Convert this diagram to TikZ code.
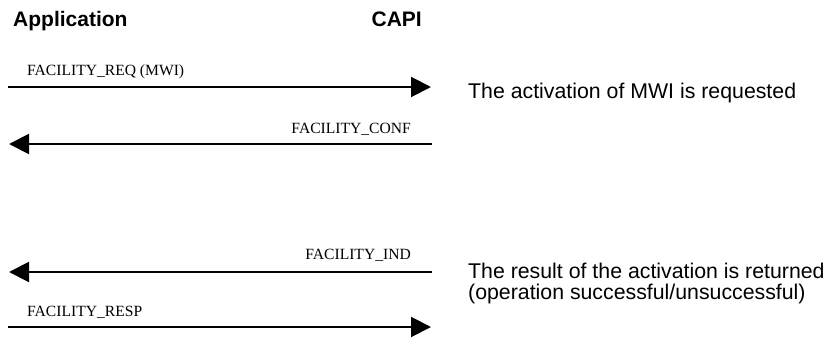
\documentclass[tikz,border=0pt]{standalone}
\usepackage{fontspec}
\setmainfont{Liberation Serif}
\setsansfont{Liberation Sans}
\usetikzlibrary{positioning,arrows.meta}

\tikzset{
	head/.style={inner sep=0pt, font=\fontsize{21}{24}\selectfont\sffamily\bfseries},
	lbl/.style={inner sep=0pt, font=\fontsize{15.6}{18}\selectfont\rmfamily},
	note/.style={inner sep=0pt, align=left, font=\fontsize{21.3}{21}\selectfont\sffamily},
	msg/.style={line width=2pt, -{Triangle[length=20pt,width=20pt]}}
}

\begin{document}
\begin{tikzpicture}[x=1pt,y=1pt]
	\useasboundingbox (0,0) rectangle (829,-337);
	\node [head, anchor=base west] (app) at (13,-27) {Application};
	\node [head, anchor=base east] (capi) at (422,-27) {CAPI};
	
	% message ends at the application and capi side
	\coordinate (reqL) at (8,-87);
	\coordinate (reqR) at (431,-87);
	\coordinate (confL) at (9,-144);
	\coordinate (confR) at (432,-144);
	\coordinate (indL) at (9,-272);
	\coordinate (indR) at (432,-272);
	\coordinate (respL) at (8,-327);
	\coordinate (respR) at (431,-327);
	
	\draw [msg] (reqL) -- (reqR);
	\node [lbl, anchor=base west] (reqlbl) at (27,-75) {FACILITY\_REQ (MWI)};
	\draw [msg] (confR) -- (confL);
	\node [lbl, anchor=base east] (conflbl) at (411,-133) {FACILITY\_CONF};
	\draw [msg] (indR) -- (indL);
	\node [lbl, anchor=base east] (indlbl) at (411,-259) {FACILITY\_IND};
	\draw [msg] (respL) -- (respR);
	\node [lbl, anchor=base west] (resplbl) at (27,-316) {FACILITY\_RESP};
	
	\node [note, anchor=base west] (note1) at (468,-98) {The activation of MWI is requested};
	\node [note, anchor=base west] (note2) at (468,-299) {The result of the activation is returned\\(operation successful/unsuccessful)};
\end{tikzpicture}
\end{document}
